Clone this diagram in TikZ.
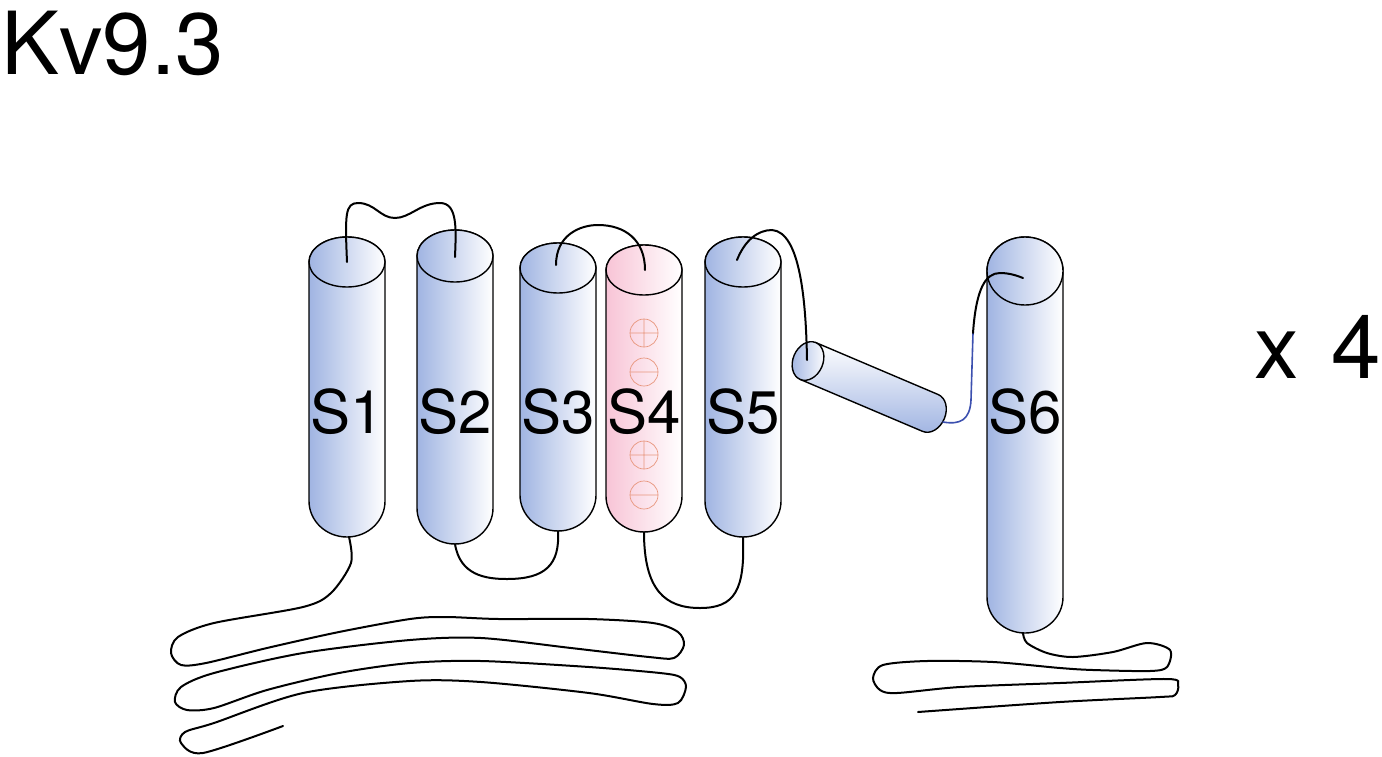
\documentclass[tikz,border=0pt]{standalone}
\usepackage{fontspec}
\setmainfont{TeX Gyre Heros}
\definecolor{helixblue}{RGB}{160,180,226}
\definecolor{helixpink}{RGB}{248,196,214}
\definecolor{chargered}{RGB}{232,150,125}
\definecolor{linkblue}{RGB}{60,80,175}
\tikzset{
  linker/.style={line width=2pt, line cap=round},
  outline/.style={draw=black, line width=1.4pt},
  chargemark/.style={draw=chargered, line width=0.7pt},
}
% #1 centre x, #2 y of top ellipse, #3 y of bottom, #4 top radius, #5 colour, #6 name
\newcommand{\helix}[6]{%
  \shade[outline, left color=#5, right color=white]
    (#1-38,#2) -- (#1-38,#3-36) arc[start angle=180, end angle=360, x radius=38pt, y radius=36pt]
    -- (#1+38,#2) arc[start angle=0, end angle=180, x radius=38pt, y radius=#4pt] -- cycle;
  \shade[outline, left color=#5, right color=white] (#1,#2) ellipse[x radius=38pt, y radius=#4pt];
  \node[font=\fontsize{60}{60}\selectfont, anchor=base] (#6) at (#1,433) {#6};
}

\begin{document}
\begin{tikzpicture}[x=1pt, y=-1pt]
    \useasboundingbox (0,0) rectangle (1382,756);
    \node[font=\fontsize{87}{87}\selectfont, anchor=base west, inner sep=0pt] (title) at (1,74) {Kv9.3};
    \node[font=\fontsize{89}{89}\selectfont, anchor=base east, inner sep=0pt] (count) at (1381,378) {x\hspace{0.36em}4};

    \helix{347}{262}{537}{25}{helixblue}{S1}
    \helix{455}{256}{544}{26}{helixblue}{S2}
    \helix{558}{268}{531}{25}{helixblue}{S3}
    \helix{644}{270}{532}{25}{helixpink}{S4}
    \helix{743}{262}{537}{25}{helixblue}{S5}
    \helix{1025}{271}{633}{34}{helixblue}{S6}

    % charges on S4
    \foreach \y in {333,455}
        \draw[chargemark] (644,\y) circle[radius=14pt] (630,\y) -- (658,\y) (644,\y-14) -- (644,\y+14);
    \foreach \y in {372,495}
        \draw[chargemark] (644,\y) circle[radius=14pt] (630,\y) -- (658,\y);

    % tilted helix
    \begin{scope}[shift={(808,361)}, rotate=-23]
        \shade[outline, bottom color=helixblue, top color=white]
            (0pt,20pt) -- (133pt,20pt) arc[start angle=90, end angle=-90, x radius=15pt, y radius=20pt] -- (0pt,-20pt) -- cycle;
        \shade[outline, left color=helixblue, right color=white] (0pt,0pt) ellipse[x radius=15pt, y radius=20pt];
    \end{scope}

    \coordinate (S1top) at (347,262);
    \coordinate (S2top) at (455,257);
    \coordinate (S3top) at (556,265);
    \coordinate (S4top) at (645,270);
    \coordinate (S5top) at (737,260);
    \coordinate (S6top) at (1023,278);
    \coordinate (S1bot) at (349,537);
    \coordinate (S2bot) at (455,544);
    \coordinate (S3bot) at (558,531);
    \coordinate (S4bot) at (644,532);
    \coordinate (S5bot) at (743,537);
    \coordinate (S6bot) at (1023,633);
    \coordinate (tiltin) at (807,360);
    \coordinate (tiltout) at (943,422);
    \coordinate (bend) at (973,333);

    \draw[linker] (S1top) .. controls (345,215) and (345,203) .. (358,203)
        .. controls (375,203) and (380,218) .. (395,218)
        .. controls (410,218) and (420,203) .. (440,203)
        .. controls (458,203) and (456,230) .. (S2top);
    \draw[linker] (S2bot) .. controls (460,575) and (485,579) .. (507,579)
        .. controls (545,579) and (560,565) .. (S3bot);
    \draw[linker] (S3top) .. controls (556,235) and (580,225) .. (598,225)
        .. controls (625,225) and (645,240) .. (S4top);
    \draw[linker] (S4bot) .. controls (644,590) and (665,608) .. (700,608)
        .. controls (735,608) and (745,590) .. (S5bot);
    \draw[linker] (S5top) .. controls (745,240) and (758,230) .. (772,230)
        .. controls (800,232) and (806,300) .. (tiltin);
    \draw[linker, linkblue, line width=1.6pt] (tiltout) .. controls (960,425) and (970,420) .. (971,400) -- (bend);
    \draw[linker] (bend) .. controls (976,290) and (985,273) .. (1000,273)
        .. controls (1010,273) and (1018,276) .. (S6top);

    % tails
    \draw[linker] plot[smooth] coordinates {(S1bot) (351,563) (331,593) (303,607) (214,623) (178,637)
        (171,653) (181,665) (206,663) (267,648) (339,632) (410,619) (446,617) (499,619) (589,619)
        (653,623) (678,632) (684,645) (674,658) (649,657) (571,648) (481,638) (410,640) (303,653)
        (214,673) (181,687) (175,702) (187,710) (214,708) (267,690) (339,673) (410,663) (481,661)
        (589,667) (660,673) (680,677) (686,687) (678,703) (653,704) (589,693) (481,682) (410,681)
        (303,693) (214,723) (185,732) (181,743) (203,753) (283,726)};
    \draw[linker] plot[smooth] coordinates {(S6bot) (1027,643) (1047,653) (1073,657) (1113,652)
        (1147,643) (1170,650) (1167,667) (1150,671) (1093,670) (1060,668) (993,662) (927,661)
        (883,665) (873,678) (880,690) (897,693) (960,687) (1060,683) (1167,679) (1178,685)
        (1175,695) (1160,697) (1060,702) (918,712)};
\end{tikzpicture}
\end{document}
